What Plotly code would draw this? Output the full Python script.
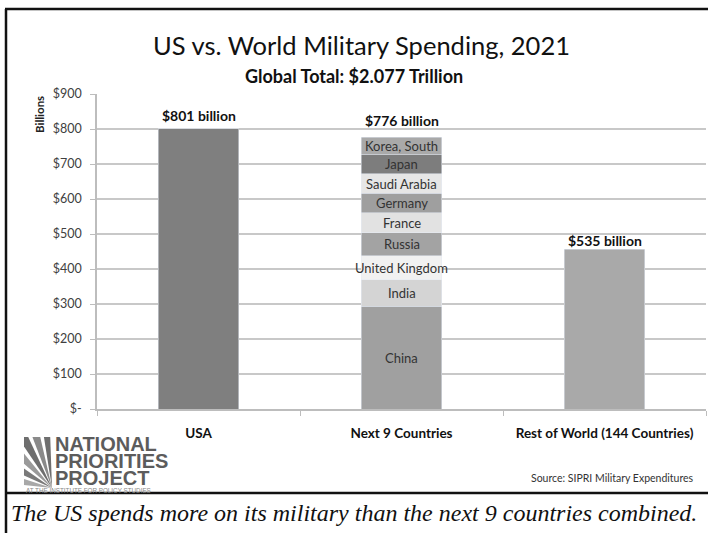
import math
import plotly.graph_objects as go

categories = ["USA", "Next 9 Countries", "Rest of World (144 Countries)"]
usa_value = 801
rest_value = 457
next9_countries = ["China", "India", "United Kingdom", "Russia", "France",
                   "Germany", "Saudi Arabia", "Japan", "Korea, South"]
next9_values = [293, 76.6, 68.4, 65.9, 56.6, 56.0, 55.6, 54.1, 50.2]
next9_colors = ["#a0a0a0", "#d4d4d4", "#f1f1f1", "#a3a3a3", "#e2e2e2",
                "#9f9f9f", "#e6e6e6", "#7d7d7d", "#a9a9a9"]
value_labels = ["$801 billion", "$776 billion", "$535 billion"]
ytick_vals = [0, 100, 200, 300, 400, 500, 600, 700, 800, 900]
ytick_text = ["$-", "$100", "$200", "$300", "$400", "$500", "$600", "$700", "$800", "$900"]

W, H = 708, 533
L, R, T, B = 97, 706, 94, 409


def px(x):
    return (x - L) / (R - L)


def py(y):
    return (B - y) / (B - T)


FONT = "Lato"
fig = go.Figure()

fig.add_trace(go.Bar(x=[categories[0]], y=[usa_value], marker_color="#7f7f7f",
                     width=0.395, showlegend=False, hoverinfo="y"))
for name, v, c in zip(next9_countries, next9_values, next9_colors):
    fig.add_trace(go.Bar(x=[categories[1]], y=[v], marker_color=c, name=name,
                         width=0.395, showlegend=False))
fig.add_trace(go.Bar(x=[categories[2]], y=[rest_value], marker_color="#a9a9a9",
                     width=0.395, showlegend=False))

ann = []
cum = 0
for name, v in zip(next9_countries, next9_values):
    ann.append(dict(x=categories[1], y=cum + v / 2, text=name, showarrow=False,
                    xanchor="center", yanchor="middle",
                    font=dict(family=FONT, size=13, color="#333"),
                    xref="x", yref="y"))
    cum += v
totals = [usa_value, cum, rest_value]
shifts = [3, 6, -2]
for cat, tot, lab, s in zip(categories, totals, value_labels, shifts):
    ann.append(dict(x=cat, y=tot, text="<b>" + lab + "</b>", showarrow=False,
                    xanchor="center", yanchor="bottom", yshift=s,
                    font=dict(family=FONT, size=14, color="#111"),
                    xref="x", yref="y"))

LOGO_FONT = "Liberation Sans Narrow, Liberation Sans"
ann += [
    dict(x=px(361), y=py(45), text="US vs. World Military Spending, 2021",
         font=dict(family=FONT, size=25.5, color="#111")),
    dict(x=px(354), y=py(76), text="<b>Global Total: $2.077 Trillion</b>",
         font=dict(family=FONT, size=18, color="#111")),
    dict(x=px(39), y=py(115), text="<b>Billions</b>", textangle=-90,
         font=dict(family=FONT, size=11.5, color="#222")),
    dict(x=px(612), y=py(478), text="Source: SIPRI Military Expenditures",
         font=dict(family=FONT, size=10.5, color="#333")),
    dict(x=px(354), y=py(513),
         text="<i>The US spends more on its military than the next 9 countries combined.</i>",
         font=dict(family="Liberation Serif", size=24, color="#111")),
    dict(x=px(53), y=py(444), xanchor="left", text="<b>NATIONAL</b>",
         font=dict(family=LOGO_FONT, size=20, color="#5c5c5c")),
    dict(x=px(53), y=py(461), xanchor="left", text="<b>PRIORITIES</b>",
         font=dict(family=LOGO_FONT, size=20, color="#5c5c5c")),
    dict(x=px(53), y=py(477.5), xanchor="left", text="<b>PROJECT</b>",
         font=dict(family=LOGO_FONT, size=20, color="#5c5c5c")),
    dict(x=px(24), y=py(490.5), xanchor="left", text="AT THE INSTITUTE FOR POLICY STUDIES",
         font=dict(family="Liberation Sans", size=6.3, color="#8a8a8a")),
]
for a in ann:
    a.setdefault("xref", "paper")
    a.setdefault("yref", "paper")
    a.setdefault("showarrow", False)
    a.setdefault("xanchor", "center")
    a.setdefault("yanchor", "middle")

shapes = []
line_col = "#111"
shapes.append(dict(type="line", xref="paper", yref="paper", x0=px(5), x1=px(708),
                   y0=py(9), y1=py(9), line=dict(color=line_col, width=2.5)))
shapes.append(dict(type="line", xref="paper", yref="paper", x0=px(6), x1=px(6),
                   y0=py(9), y1=py(533), line=dict(color=line_col, width=2.5)))
shapes.append(dict(type="line", xref="paper", yref="paper", x0=px(6), x1=px(708),
                   y0=py(493), y1=py(493), line=dict(color=line_col, width=2.5)))

# logo fan
ox, oy = 52, 488
left, top = 24, 437
wedges = [(92, 99, "#6e6e6e"), (103, 111, "#8a8a8a"), (115, 124, "#6e6e6e"),
          (129, 139, "#9a9a9a"), (145, 156, "#7a7a7a"), (162, 174, "#a8a8a8")]


def edge_point(deg):
    t = math.radians(deg)
    dx, dy = math.cos(t), -math.sin(t)
    cands = []
    if dx < 0:
        cands.append((left - ox) / dx)
    if dy < 0:
        cands.append((top - oy) / dy)
    s = min(cands)
    return ox + dx * s, oy + dy * s


for a0, a1, col in wedges:
    x0, y0 = edge_point(a0)
    x1, y1 = edge_point(a1)
    pts = [(ox, oy), (x0, y0)]
    if (x0 > left + 0.1) and (y1 > top + 0.1):
        pts.append((left, top))
    pts.append((x1, y1))
    path = "M " + " L ".join(f"{px(x):.5f},{py(y):.5f}" for x, y in pts) + " Z"
    shapes.append(dict(type="path", xref="paper", yref="paper", path=path,
                       fillcolor=col, line=dict(width=0)))

fig.update_layout(
    width=W, height=H,
    margin=dict(l=L, r=W - R, t=T, b=H - B),
    barmode="stack", bargap=0.6,
    paper_bgcolor="white", plot_bgcolor="white",
    annotations=ann, shapes=shapes,
    xaxis=dict(type="category", tickson="boundaries", ticks="outside", ticklen=5,
               tickcolor="#bdbdbd", showline=True, linecolor="#bdbdbd", linewidth=1.5,
               tickfont=dict(family=FONT, size=13.5, color="#111", weight="bold"),
               ticklabelstandoff=11, showgrid=False, fixedrange=True),
    yaxis=dict(range=[0, 900], tickvals=ytick_vals, ticktext=ytick_text,
               ticks="outside", ticklen=5, tickcolor="#bdbdbd",
               showline=True, linecolor="#bdbdbd", linewidth=1.5,
               gridcolor="#c8c8c8", gridwidth=1.5, zeroline=False,
               tickfont=dict(family=FONT, size=12.5, color="#404040"),
               ticklabelstandoff=6, fixedrange=True),
    font=dict(family=FONT),
)

fig.write_html("out.html")
